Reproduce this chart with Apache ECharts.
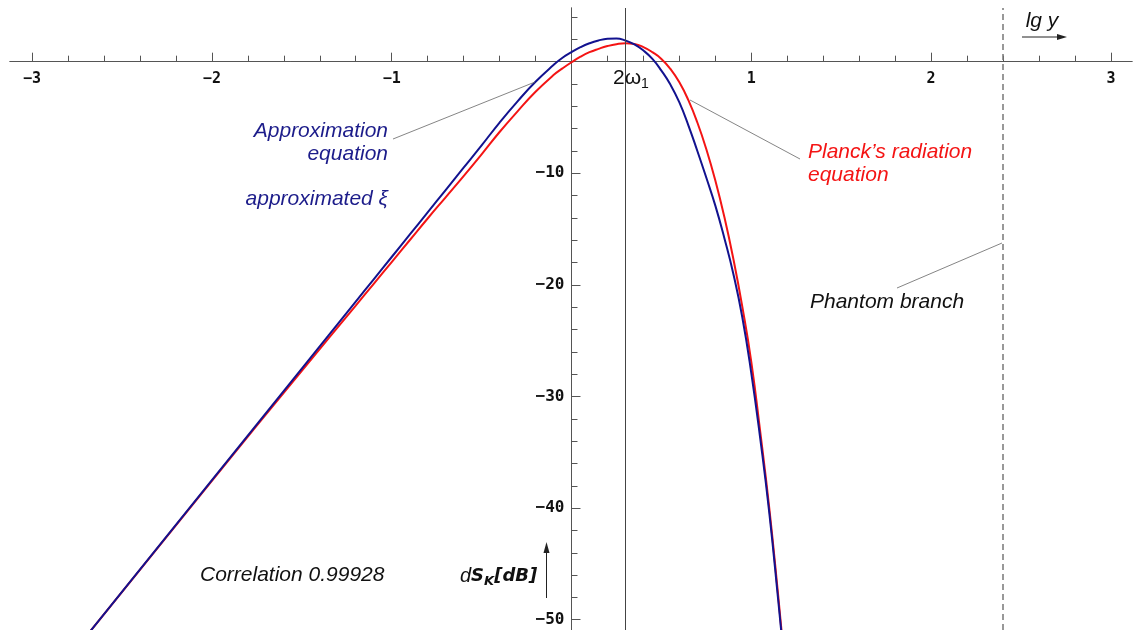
<!DOCTYPE html>
<html>
<head>
<meta charset="utf-8">
<script src="https://cdn.jsdelivr.net/npm/echarts@6/dist/echarts.min.js"></script>
<style>
  html, body { margin: 0; padding: 0; background: #fff; }
  #chart { width: 1136px; height: 630px; }
</style>
</head>
<body>
<div id="chart"></div>
<script>
// lg y sample points (shared by both curves)
const lgY = [-2.7, -2.0, -1.5, -1.2, -1.1, -1.0, -0.9, -0.8, -0.7, -0.6, -0.5, -0.4, -0.3, -0.2, -0.1, -0.05,
  0.0, 0.05, 0.1, 0.15, 0.2, 0.25, 0.3, 0.35, 0.4, 0.45, 0.5, 0.55, 0.6, 0.65, 0.7, 0.75,
  0.8, 0.85, 0.9, 0.95, 1.0, 1.05, 1.1, 1.15, 1.17];
// approximation equation, dS_K in dB
const approxDb = [-51.5, -37.5, -27.5, -21.5, -19.5, -17.5, -15.5, -13.5, -11.5, -9.5, -7.5, -5.45, -3.55, -1.8, -0.3, 0.35,
  0.85, 1.3, 1.65, 1.9, 2.05, 2.08, 1.9, 1.55, 1.0, 0.25, -0.8, -2.05, -3.65, -5.7, -8.0, -10.4,
  -12.9, -15.8, -19.0, -22.9, -27.9, -33.8, -40.4, -48.3, -51.6];
// Planck's radiation equation, dS_K in dB
const planckDb = [-51.5, -37.55, -27.7, -21.85, -19.9, -17.95, -16.0, -14.05, -12.15, -10.25, -8.3, -6.3, -4.45, -2.7, -1.2, -0.6,
  -0.05, 0.45, 0.85, 1.15, 1.4, 1.57, 1.65, 1.58, 1.3, 0.85, 0.25, -0.65, -1.85, -3.45, -5.45, -7.85,
  -10.65, -13.9, -17.65, -21.95, -26.9, -33.2, -40.0, -47.9, -51.3];
// axis ticks and labels
const xMajor = [-3, -2, -1, 0, 1, 2, 3];
const xLabels = [-3, -2, -1, 1, 2, 3];
const yMajor = [0, -10, -20, -30, -40, -50];
const yLabels = [-10, -20, -30, -40, -50];
const xMinor = [];
for (let i = -15; i <= 15; i++) xMinor.push(+(i * 0.2).toFixed(1));
const yMinor = [];
for (let v = 4; v >= -50; v -= 2) yMinor.push(v);

const omegaLine = 0.303;   // 2ω1
const phantomLine = 2.4;   // phantom branch

const chart = echarts.init(document.getElementById('chart'));

// plot area
const W = 1136, H = 630;
const grid = {left: 10, right: 4, top: 8, bottom: 0};
const xRange = {min: -3.1229, max: 3.1174};
const yRange = {min: -50.92, max: 4.81};
// the axes cross at (0, 0): shift them there from the grid edges
const plotW = W - grid.left - grid.right, plotH = H - grid.top - grid.bottom;
const zeroX = grid.left + plotW * (0 - xRange.min) / (xRange.max - xRange.min);
const zeroY = grid.top + plotH * (yRange.max - 0) / (yRange.max - yRange.min);
const xOffset = zeroY - (H - grid.bottom);
const yOffset = grid.left - zeroX;

const axisColor = '#555';
const labelFont = {fontFamily: 'DejaVu Sans Mono', fontWeight: 'bold', color: '#111'};
const italic = {fontFamily: 'Liberation Sans', fontStyle: 'italic', fontSize: 21};
const minus = v => String(v).replace('-', '−');

function pairs(ys) {
  return lgY.map((x, i) => [x, ys[i]]);
}

function xAxisDef(ticks, len, label) {
  return Object.assign({
    type: 'value', position: 'bottom', offset: xOffset,
    axisLine: {onZero: false, lineStyle: {color: axisColor, width: 1}},
    axisTick: {inside: true, length: len, customValues: ticks, lineStyle: {color: axisColor}},
    splitLine: {show: false},
    axisLabel: label ? Object.assign({margin: 10, fontSize: 15, customValues: label, formatter: minus}, labelFont) : {show: false}
  }, xRange);
}

function yAxisDef(ticks, len, label) {
  return Object.assign({
    type: 'value', position: 'left', offset: yOffset,
    axisLine: {onZero: false, lineStyle: {color: axisColor, width: 1}},
    axisTick: {inside: true, length: len, customValues: ticks, lineStyle: {color: axisColor}},
    splitLine: {show: false},
    axisLabel: label ? Object.assign({margin: 7, fontSize: 16, customValues: label, formatter: minus}, labelFont) : {show: false}
  }, yRange);
}

chart.setOption({
  animation: false,
  grid: Object.assign({containLabel: false, outerBoundsMode: 'none'}, grid),
  xAxis: [xAxisDef(xMajor, 9, xLabels), xAxisDef(xMinor, 6, null)],
  yAxis: [yAxisDef(yMajor, 9, yLabels), yAxisDef(yMinor, 6, null)],
  series: [
    {
      type: 'line', name: "Planck's radiation equation",
      data: pairs(planckDb), showSymbol: false, smooth: 0.5, clip: false,
      lineStyle: {color: '#f41414', width: 2}
    },
    {
      type: 'line', name: 'Approximation equation',
      data: pairs(approxDb), showSymbol: false, smooth: 0.5, clip: false,
      lineStyle: {color: '#12128f', width: 2},
      markLine: {
        silent: true, symbol: 'none', label: {show: false},
        data: [
          {xAxis: omegaLine, lineStyle: {color: '#444', width: 1, type: 'solid'}},
          {xAxis: phantomLine, lineStyle: {color: '#777', width: 1.5, type: [6, 4]}}
        ]
      }
    }
  ],
  graphic: [
    // leader lines
    {type: 'line', z: 110, shape: {x1: 393, y1: 139, x2: 535, y2: 82}, style: {stroke: '#666', lineWidth: 0.8}},
    {type: 'line', z: 110, shape: {x1: 690, y1: 100, x2: 800, y2: 159}, style: {stroke: '#666', lineWidth: 0.8}},
    {type: 'line', z: 110, shape: {x1: 897, y1: 288, x2: 1002, y2: 243}, style: {stroke: '#666', lineWidth: 0.8}},

    // annotations
    {type: 'text', z: 110, x: 388, y: 131, style: Object.assign({text: 'Approximation', fill: '#1c1c8a', align: 'right', verticalAlign: 'middle'}, italic)},
    {type: 'text', z: 110, x: 388, y: 154, style: Object.assign({text: 'equation', fill: '#1c1c8a', align: 'right', verticalAlign: 'middle'}, italic)},
    {type: 'text', z: 110, x: 388, y: 199, style: Object.assign({text: 'approximated ξ', fill: '#1c1c8a', align: 'right', verticalAlign: 'middle'}, italic)},
    {type: 'text', z: 110, x: 808, y: 152, style: Object.assign({text: 'Planck’s radiation', fill: '#f41414', align: 'left', verticalAlign: 'middle'}, italic)},
    {type: 'text', z: 110, x: 808, y: 175, style: Object.assign({text: 'equation', fill: '#f41414', align: 'left', verticalAlign: 'middle'}, italic)},
    {type: 'text', z: 110, x: 810, y: 302, style: Object.assign({text: 'Phantom branch', fill: '#111', align: 'left', verticalAlign: 'middle'}, italic)},
    {type: 'text', z: 110, x: 200, y: 575, style: Object.assign({text: 'Correlation 0.99928', fill: '#111', align: 'left', verticalAlign: 'middle'}, italic)},
    {type: 'text', z: 110, x: 1042, y: 21, style: Object.assign({text: 'lg y', fill: '#111', align: 'center', verticalAlign: 'middle'}, italic)},
    {type: 'line', z: 110, shape: {x1: 1022, y1: 37, x2: 1060, y2: 37}, style: {stroke: '#222', lineWidth: 1}},
    {type: 'polygon', z: 110, shape: {points: [[1067, 37], [1057, 34], [1057, 40]]}, style: {fill: '#222'}},
    {
      type: 'text', z: 110, x: 613, y: 78,
      style: {
        text: '{a|2ω}{s|1}', align: 'left', verticalAlign: 'middle', fill: '#111',
        rich: {
          a: {fontFamily: 'Liberation Sans', fontSize: 21, fill: '#111'},
          s: {fontFamily: 'Liberation Sans', fontSize: 14, fill: '#111', padding: [12, 0, 0, 0]}
        }
      }
    },
    {
      type: 'text', z: 110, x: 460, y: 576,
      style: {
        text: '{d|d}{b|S}{k|K}{b|[dB]}', align: 'left', verticalAlign: 'middle', fill: '#111',
        rich: {
          d: {fontFamily: 'Liberation Sans', fontStyle: 'italic', fontSize: 20, fill: '#111'},
          b: {fontFamily: 'DejaVu Sans', fontStyle: 'italic', fontWeight: 'bold', fontSize: 18, fill: '#111'},
          k: {fontFamily: 'DejaVu Sans', fontStyle: 'italic', fontWeight: 'bold', fontSize: 13, fill: '#111', padding: [12, 0, 0, 0]}
        }
      }
    },
    {type: 'line', z: 110, shape: {x1: 546.5, y1: 598, x2: 546.5, y2: 552}, style: {stroke: '#222', lineWidth: 1}},
    {type: 'polygon', z: 110, shape: {points: [[546.5, 542], [543.5, 553], [549.5, 553]]}, style: {fill: '#222'}}
  ]
});
</script>
</body>
</html>
